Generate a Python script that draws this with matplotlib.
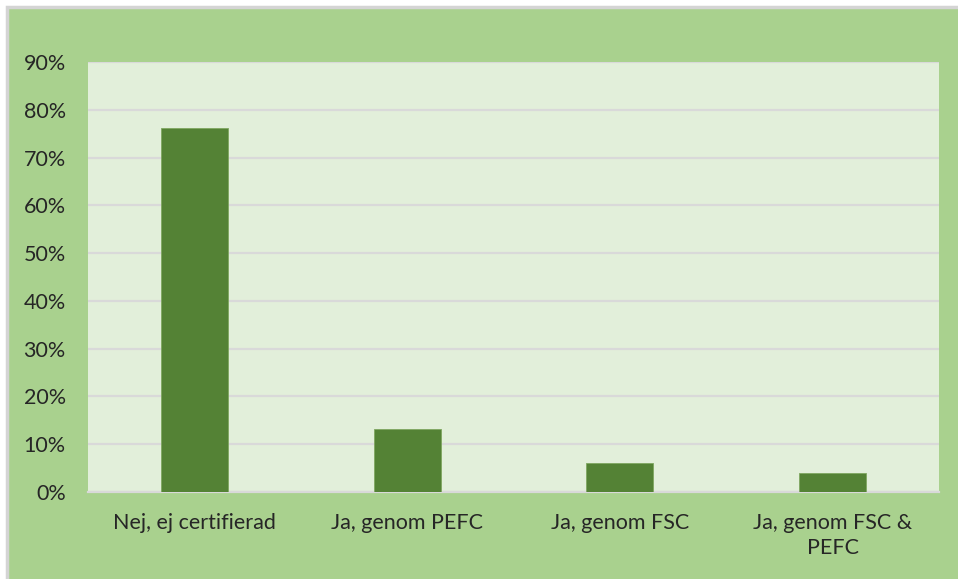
import matplotlib.pyplot as plt
from matplotlib.patches import Rectangle
from matplotlib.ticker import PercentFormatter

categories = ['Nej, ej certifierad', 'Ja, genom PEFC', 'Ja, genom FSC', 'Ja, genom FSC &\nPEFC']
values = [76.2, 13.2, 6.1, 4.0]
yticks = [0, 10, 20, 30, 40, 50, 60, 70, 80, 90]

plt.rcParams['font.family'] = ['Lato', 'DejaVu Sans']

fig = plt.figure(figsize=(9.58, 5.79), dpi=100, facecolor='white')
# chart frame: green area with grey border at top/left
fig.patches.append(Rectangle((7 / 958, -0.05), 1.1, (579 - 7) / 579 + 0.05,
                             transform=fig.transFigure, facecolor='#A9D18E',
                             edgecolor='#D4D4D4', linewidth=2.5, zorder=-10))

ax = fig.add_axes([88 / 958, 87 / 579, (939 - 88) / 958, (492 - 62) / 579])
ax.set_facecolor('#E2EFDA')

x = range(len(categories))
ax.bar(x, values, width=0.315, color='#548235', edgecolor='#7FA760', linewidth=0.6, zorder=3)

ax.set_xlim(-0.5, len(categories) - 0.5)
ax.set_ylim(0, 90)
ax.set_yticks(yticks)
ax.yaxis.set_major_formatter(PercentFormatter(decimals=0))
ax.set_xticks(list(x))
ax.set_xticklabels(categories, ha='center', linespacing=1.3)

ax.grid(axis='y', color='#D9D9D9', linewidth=1.6, zorder=1)
for s in ['top', 'right', 'left']:
    ax.spines[s].set_visible(False)
ax.spines['bottom'].set_color('#D9D9D9')
ax.spines['bottom'].set_linewidth(1.6)

ax.tick_params(axis='both', length=0, labelsize=15.5, colors='#262626')
ax.tick_params(axis='y', pad=16)
ax.tick_params(axis='x', pad=15)

plt.savefig('out.png', dpi=100, facecolor=fig.get_facecolor())
